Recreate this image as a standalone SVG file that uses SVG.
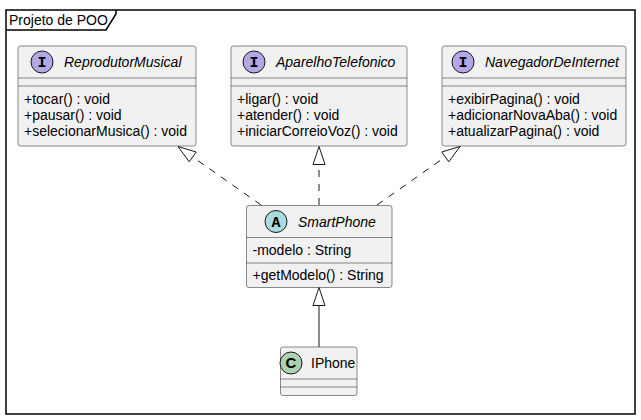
<svg xmlns="http://www.w3.org/2000/svg" width="641" height="420" viewBox="0 0 641 420">
<defs>
<style>
text{font-family:"Liberation Sans",Arial,sans-serif;font-size:14px;fill:#000000}
.name{font-style:italic}
.box{fill:#F1F1F1;stroke:#181818;stroke-width:0.5}
.sep{stroke:#181818;stroke-width:0.5}
.ci{stroke:#181818;stroke-width:1}
.letter{font-family:"Liberation Mono","Courier New",monospace;font-weight:bold;font-size:15px;text-anchor:middle}
.edge{fill:none;stroke:#181818;stroke-width:1}
.dash{stroke-dasharray:7,7}
.head{fill:none;stroke:#181818;stroke-width:1}
</style>
</defs>
<rect width="641" height="420" fill="#FFFFFF"/>
<g id="frame">
<rect x="6" y="10" width="629" height="404" fill="none" stroke="#000000" stroke-width="1.5"/>
<path d="M6,30 L106,30 L116,14 L116,10" fill="none" stroke="#000000" stroke-width="1.5"/>
<text x="9" y="25">Projeto de POO</text>
</g>
<g id="ReprodutorMusical">
<rect class="box" x="18" y="46" width="178" height="100" rx="2.5"/>
<circle class="ci" cx="42" cy="62" r="11" fill="#B4A7E5"/>
<text class="letter" x="42" y="67">I</text>
<text class="name" x="64" y="67">ReprodutorMusical</text>
<line class="sep" x1="18" y1="78" x2="196" y2="78"/>
<line class="sep" x1="18" y1="86" x2="196" y2="86"/>
<text x="24" y="104">+tocar() : void</text>
<text x="24" y="120">+pausar() : void</text>
<text x="24" y="136">+selecionarMusica() : void</text>
</g>
<g id="AparelhoTelefonico">
<rect class="box" x="231" y="46" width="176" height="100" rx="2.5"/>
<circle class="ci" cx="254" cy="62" r="11" fill="#B4A7E5"/>
<text class="letter" x="254" y="67">I</text>
<text class="name" x="276" y="67">AparelhoTelefonico</text>
<line class="sep" x1="231" y1="78" x2="407" y2="78"/>
<line class="sep" x1="231" y1="86" x2="407" y2="86"/>
<text x="237" y="104">+ligar() : void</text>
<text x="237" y="120">+atender() : void</text>
<text x="237" y="136">+iniciarCorreioVoz() : void</text>
</g>
<g id="NavegadorDeInternet">
<rect class="box" x="442" y="46" width="184" height="100" rx="2.5"/>
<circle class="ci" cx="463" cy="62" r="11" fill="#B4A7E5"/>
<text class="letter" x="463" y="67">I</text>
<text class="name" x="485" y="67">NavegadorDeInternet</text>
<line class="sep" x1="442" y1="78" x2="626" y2="78"/>
<line class="sep" x1="442" y1="86" x2="626" y2="86"/>
<text x="448" y="104">+exibirPagina() : void</text>
<text x="448" y="120">+adicionarNovaAba() : void</text>
<text x="448" y="136">+atualizarPagina() : void</text>
</g>
<g id="SmartPhone">
<rect class="box" x="246.5" y="205.5" width="145.5" height="82" rx="2.5"/>
<circle class="ci" cx="276" cy="221.5" r="11" fill="#A9DCDF"/>
<text class="letter" x="276" y="226.5">A</text>
<text class="name" x="298" y="227">SmartPhone</text>
<line class="sep" x1="246.5" y1="237.5" x2="392" y2="237.5"/>
<text x="252.5" y="255">-modelo : String</text>
<line class="sep" x1="246.5" y1="263" x2="392" y2="263"/>
<text x="252.5" y="280">+getModelo() : String</text>
</g>
<g id="IPhone">
<rect class="box" x="280.5" y="347" width="76.5" height="48.5" rx="2.5"/>
<circle class="ci" cx="291" cy="363" r="11" fill="#ADD1B2"/>
<text class="letter" x="291" y="368" style="font-family:'Liberation Sans',Arial,sans-serif">C</text>
<text x="311" y="368">IPhone</text>
<line class="sep" x1="280.5" y1="379" x2="357" y2="379"/>
<line class="sep" x1="280.5" y1="387" x2="357" y2="387"/>
</g>
<g id="connectors">
<path class="edge dash" d="M261,205 L192.7,156.9"/>
<polygon class="head" points="178,146.5 196.2,152 189.2,161.8"/>
<path class="edge dash" d="M319,205 L319,164.5"/>
<polygon class="head" points="319,146.5 325,164.5 313,164.5"/>
<path class="edge dash" d="M377,205 L445.3,156.9"/>
<polygon class="head" points="460,146.5 448.8,161.8 441.8,152"/>
<path class="edge" d="M319,347 L319,305.5"/>
<polygon class="head" points="319,287.5 325,305.5 313,305.5"/>
</g>
</svg>
